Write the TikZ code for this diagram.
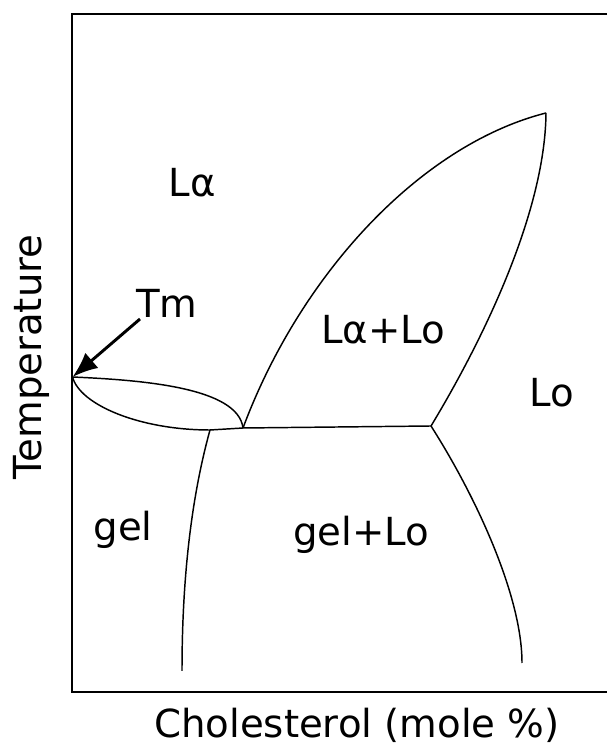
\documentclass[tikz,border=0pt]{standalone}
\usepackage{fontspec}
\setmainfont{DejaVu Sans}
\usetikzlibrary{arrows.meta}

\tikzset{
  phase/.style={font=\fontsize{29}{34}\selectfont},
  border/.style={line width=1.5pt},
  boundary/.style={line width=1.1pt}
}

\begin{document}
\begin{tikzpicture}[x=0.75pt, y=0.75pt]
  \useasboundingbox (0,0) rectangle (607,745);
  % frame
  \draw[border] (607,731) -- (72,731) -- (72,53) -- (607,53);
  % points of the diagram
  \coordinate (tm) at (72.5,368);
  \coordinate (gelend) at (210,315);
  \coordinate (eut) at (243,317);
  \coordinate (lojoin) at (431,319);
  \coordinate (peak) at (546,632);
  \coordinate (tmtail) at (140,426);
  % lines
  \draw[boundary] (tm) .. controls (140,365) and (238,358) .. (eut);
  \draw[boundary] (tm) .. controls (80,340) and (140,315) .. (gelend);
  \draw[boundary] (gelend) -- (eut) -- (lojoin);
  \draw[boundary] (eut) .. controls (300,470) and (420,600) .. (peak);
  \draw[boundary] (peak) .. controls (545,530) and (480,400) .. (lojoin);
  \draw[boundary] (gelend) .. controls (192,250) and (182,170) .. (182,74);
  \draw[boundary] (lojoin) .. controls (475,250) and (522,150) .. (522,82);
  % labels
  \node[phase] (la) at (192,562) {Lα};
  \node[phase] (tmlabel) at (167,442) {Tm};
  \node[phase] (lalo) at (383,415) {Lα+Lo};
  \node[phase] (lo) at (552,352) {Lo};
  \node[phase] (gel) at (123,215) {gel};
  \node[phase] (gello) at (361,210) {gel+Lo};
  \node[phase, rotate=90] (temp) at (31,388) {Temperature};
  \node[phase] (chol) at (357,20) {Cholesterol (mole \%)};
  \draw[line width=2.2pt, -{Latex[length=19pt, width=15pt]}] (tmtail) -- (tm);
\end{tikzpicture}
\end{document}
